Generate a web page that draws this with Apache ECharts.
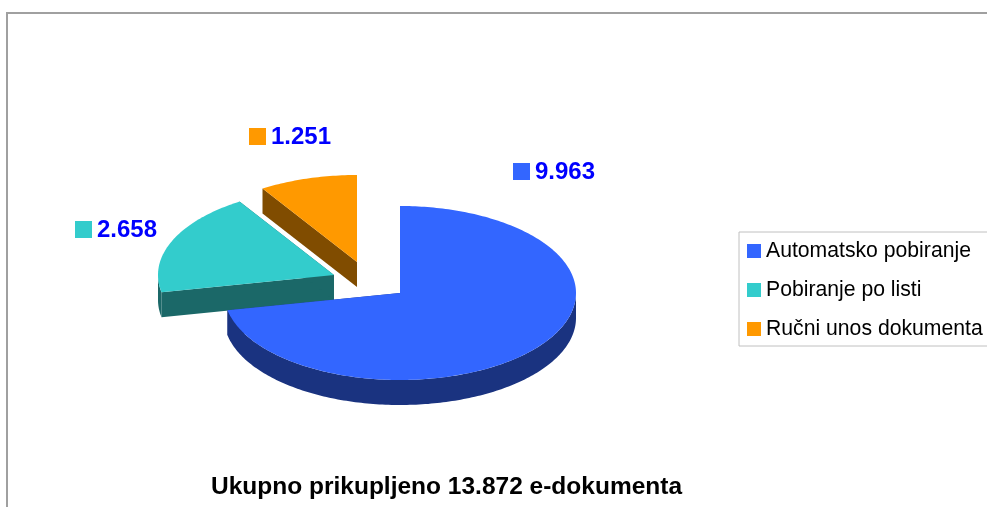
<!DOCTYPE html>
<html>
<head>
<meta charset="utf-8">
<title>e-dokumenti</title>
<script src="https://cdn.jsdelivr.net/npm/echarts@6/dist/echarts.min.js"></script>
<style>
  html, body { margin: 0; padding: 0; background: #fff; }
  #chart { width: 987px; height: 507px; }
</style>
</head>
<body>
<div id="chart"></div>
<script>
// podaci
const categories = ['Automatsko pobiranje', 'Pobiranje po listi', 'Ručni unos dokumenta'];
const values = [9963, 2658, 1251];
const valueLabels = ['9.963', '2.658', '1.251'];
const titleText = 'Ukupno prikupljeno 13.872 e-dokumenta';

// boje: gornja ploha i bocna strana
const topColors = ['#3366ff', '#33cccc', '#ff9900'];
const sideColors = ['#1a3380', '#1b6868', '#804c00'];

// geometrija "3D" pite (elipsa + debljina)
const pie = { cx: 400, cy: 293, rx: 176, ry: 87, depth: 25 };
const explode = [[0, 0], [-66, -18], [-43, -31]]; // pomak izvucenih isjecaka
const labelPos = [[513, 163], [75, 221], [249, 128]]; // kvadratic ispred vrijednosti
const FONT = '"Liberation Sans", Arial, sans-serif';

const total = values.reduce((a, b) => a + b, 0);
const startAngles = [];
let acc = 0;
values.forEach(v => {
  startAngles.push(acc / total * 360);
  acc += v;
});

// tocka na elipsi, kut u stupnjevima od vrha u smjeru kazaljke
function pt(ox, oy, deg, dy) {
  const r = deg * Math.PI / 180;
  return [ox + pie.rx * Math.sin(r), oy - pie.ry * Math.cos(r) + (dy || 0)];
}
function arc(ox, oy, a0, a1, dy) {
  const pts = [];
  const n = Math.max(2, Math.ceil(a1 - a0));
  for (let k = 0; k <= n; k++) {
    pts.push(pt(ox, oy, a0 + (a1 - a0) * k / n, dy));
  }
  return pts;
}

function renderSlice(params, api) {
  const i = params.seriesIndex;
  const a0 = startAngles[i];
  const a1 = a0 + api.value(0) / total * 360;
  const ox = pie.cx + explode[i][0];
  const oy = pie.cy + explode[i][1];
  const d = pie.depth;
  const children = [];
  // radijalne stijenke
  [a0, a1].forEach(a => {
    const p = pt(ox, oy, a);
    children.push({
      type: 'polygon',
      shape: { points: [[ox, oy], p, [p[0], p[1] + d], [ox, oy + d]] },
      style: { fill: sideColors[i] }
    });
  });
  // prednja zakrivljena stijenka
  const f0 = Math.max(a0, 90), f1 = Math.min(a1, 270);
  if (f1 > f0) {
    const upper = arc(ox, oy, f0, f1, 0);
    const lower = arc(ox, oy, f0, f1, d).reverse();
    children.push({
      type: 'polygon',
      shape: { points: upper.concat(lower) },
      style: { fill: sideColors[i] }
    });
  }
  // gornja ploha
  children.push({
    type: 'polygon',
    shape: { points: [[ox, oy]].concat(arc(ox, oy, a0, a1, 0)) },
    style: { fill: topColors[i] }
  });
  // oznaka vrijednosti
  const lp = labelPos[i];
  children.push({
    type: 'rect',
    shape: { x: lp[0], y: lp[1], width: 17, height: 17 },
    style: { fill: topColors[i] }
  });
  children.push({
    type: 'text',
    x: lp[0] + 22,
    y: lp[1] + 9,
    style: {
      text: valueLabels[i],
      fill: '#0000ff',
      font: 'bold 24px ' + FONT,
      verticalAlign: 'middle'
    }
  });
  return { type: 'group', children: children };
}

const chart = echarts.init(document.getElementById('chart'));
// isjecci se crtaju: narancasti, tirkizni pa plavi (plavi je naprijed)
const zOrder = [3, 2, 1];
const option = {
  animation: false,
  title: {
    text: titleText,
    left: 211,
    top: 475,
    padding: 0,
    textStyle: { fontFamily: FONT, fontSize: 24.5, fontWeight: 'bold', color: '#000' }
  },
  legend: {
    orient: 'vertical',
    left: 739,
    top: 232,
    padding: [7, 14, 5, 8],
    itemGap: 15,
    itemWidth: 14,
    itemHeight: 14,
    icon: 'rect',
    borderColor: '#c0c0c0',
    borderWidth: 1,
    data: categories,
    textStyle: { fontFamily: FONT, fontSize: 21.2, lineHeight: 24, color: '#000' }
  },
  graphic: [
    {
      type: 'rect',
      shape: { x: 7, y: 13, width: 1000, height: 600 },
      style: { fill: 'none', stroke: '#a0a0a0', lineWidth: 2 },
      silent: true
    }
  ],
  series: categories.map((name, i) => ({
    type: 'custom',
    name: name,
    coordinateSystem: 'none',
    z: zOrder[i],
    itemStyle: { color: topColors[i] },
    renderItem: renderSlice,
    data: [[values[i]]]
  }))
};
chart.setOption(option);
</script>
</body>
</html>
